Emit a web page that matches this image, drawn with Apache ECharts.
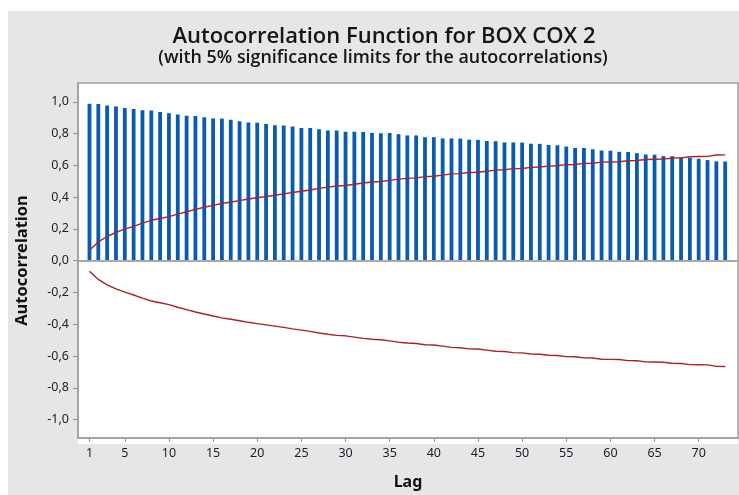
<!DOCTYPE html>
<html>
<head>
<meta charset="utf-8">
<script src="https://cdn.jsdelivr.net/npm/echarts@6/dist/echarts.min.js"></script>
<style>
html,body{margin:0;padding:0;background:#fff;}
#chart{width:739px;height:495px;}
</style>
</head>
<body>
<div id="chart"></div>
<script>
var lags = [];
for (var i = 1; i <= 73; i++) lags.push(i);

var acf = [
0.987,0.986,0.977,0.971,0.961,0.955,0.946,0.945,0.936,0.928,
0.920,0.912,0.911,0.903,0.895,0.894,0.887,0.878,0.869,0.868,
0.860,0.852,0.851,0.844,0.835,0.835,0.827,0.819,0.819,0.812,
0.811,0.810,0.804,0.802,0.803,0.796,0.788,0.788,0.777,0.777,
0.769,0.769,0.768,0.761,0.760,0.753,0.752,0.744,0.744,0.743,
0.736,0.735,0.728,0.726,0.718,0.709,0.709,0.701,0.693,0.692,
0.685,0.684,0.676,0.668,0.667,0.658,0.657,0.649,0.648,0.641,
0.633,0.625,0.624
];

var upperLimit = [
0.066,0.118,0.152,0.178,0.198,0.216,0.236,0.254,0.265,0.277,
0.293,0.308,0.323,0.336,0.348,0.360,0.369,0.378,0.388,0.396,
0.404,0.412,0.420,0.429,0.437,0.445,0.455,0.463,0.470,0.473,
0.481,0.489,0.495,0.498,0.505,0.513,0.518,0.521,0.529,0.531,
0.538,0.546,0.548,0.555,0.556,0.563,0.570,0.572,0.579,0.580,
0.587,0.589,0.595,0.597,0.604,0.605,0.612,0.613,0.620,0.621,
0.622,0.629,0.630,0.637,0.638,0.639,0.646,0.647,0.654,0.655,
0.656,0.665,0.666
];

var lowerLimit = [
-0.066,-0.118,-0.152,-0.178,-0.198,-0.216,-0.236,-0.254,-0.265,-0.277,
-0.293,-0.308,-0.323,-0.336,-0.348,-0.360,-0.369,-0.378,-0.388,-0.396,
-0.404,-0.412,-0.420,-0.429,-0.437,-0.445,-0.455,-0.463,-0.470,-0.473,
-0.481,-0.489,-0.495,-0.498,-0.505,-0.513,-0.518,-0.521,-0.529,-0.531,
-0.538,-0.546,-0.548,-0.555,-0.556,-0.563,-0.570,-0.572,-0.579,-0.580,
-0.587,-0.589,-0.595,-0.597,-0.604,-0.605,-0.612,-0.613,-0.620,-0.621,
-0.622,-0.629,-0.630,-0.637,-0.638,-0.639,-0.646,-0.647,-0.654,-0.655,
-0.656,-0.665,-0.666
];

var xTicks = [1,5,10,15,20,25,30,35,40,45,50,55,60,65,70];
var yTicks = [-1.0,-0.8,-0.6,-0.4,-0.2,0.0,0.2,0.4,0.6,0.8,1.0];

var titleText = 'Autocorrelation Function for BOX COX 2';
var subtitleText = '(with 5% significance limits for the autocorrelations)';

function pairs(xs, ys) { return xs.map(function (x, k) { return [x, ys[k]]; }); }

var FONT = 'Noto Sans';
var chart = echarts.init(document.getElementById('chart'), null, {renderer: 'canvas'});
chart.setOption({
  animation: false,
  backgroundColor: '#ffffff',
  textStyle: {fontFamily: FONT},
  graphic: [
    {type: 'rect', z: -10, shape: {x: 8, y: 11, width: 740, height: 490}, style: {fill: '#e6e6e6'}},
    {type: 'rect', z: -9, shape: {x: 78, y: 83, width: 660, height: 361}, style: {fill: '#ffffff'}},
    {type: 'text', x: 384, y: 37, style: {text: titleText, font: '600 22px "Open Sans"', fill: '#151515', align: 'center', verticalAlign: 'middle'}},
    {type: 'text', x: 383, y: 57.5, style: {text: subtitleText, font: '600 17.9px "Open Sans"', fill: '#151515', align: 'center', verticalAlign: 'middle'}}
  ],
  grid: {left: 78, top: 83, right: 1, bottom: 51, show: true, borderColor: '#a0a0a0', borderWidth: 1.5, backgroundColor: 'transparent'},
  xAxis: {
    type: 'value', min: -0.3, max: 74.45,
    name: 'Lag', nameLocation: 'middle', nameGap: 36,
    nameTextStyle: {fontSize: 16, fontWeight: 'bold', color: '#111'},
    axisLine: {show: true, onZero: false, lineStyle: {color: '#a0a0a0', width: 1.5}},
    axisTick: {show: true, length: 4, customValues: xTicks, lineStyle: {color: '#909090'}},
    axisLabel: {customValues: xTicks, fontSize: 12.5, color: '#1c1c2c', margin: 9},
    splitLine: {show: false}
  },
  yAxis: {
    type: 'value', min: -1.116, max: 1.118,
    name: 'Autocorrelation', nameLocation: 'middle', nameGap: 47, nameRotate: 90,
    nameTextStyle: {fontSize: 16.5, fontWeight: 'bold', color: '#111'},
    axisLine: {show: true, onZero: false, lineStyle: {color: '#a0a0a0', width: 1.5}},
    axisTick: {show: true, length: 5, customValues: yTicks, lineStyle: {color: '#909090'}},
    axisLabel: {customValues: yTicks, fontSize: 12.5, color: '#1c1c2c', margin: 9,
      formatter: function (v) { return v.toFixed(1).replace('.', ','); }},
    splitLine: {show: false}
  },
  series: [
    {
      type: 'bar', name: 'ACF', data: pairs(lags, acf), barWidth: 3.8,
      itemStyle: {color: '#0a5bb0'},
      markLine: {silent: true, symbol: 'none', label: {show: false},
        lineStyle: {color: '#a8a8a8', width: 2, type: 'solid'}, data: [{yAxis: 0}]}
    },
    {
      type: 'line', name: 'Upper', data: pairs(lags, upperLimit), showSymbol: false,
      lineStyle: {color: '#a5232a', width: 1.4}, z: 5
    },
    {
      type: 'line', name: 'Lower', data: pairs(lags, lowerLimit), showSymbol: false,
      lineStyle: {color: '#a5232a', width: 1.4}, z: 5
    }
  ]
});
</script>
</body>
</html>
